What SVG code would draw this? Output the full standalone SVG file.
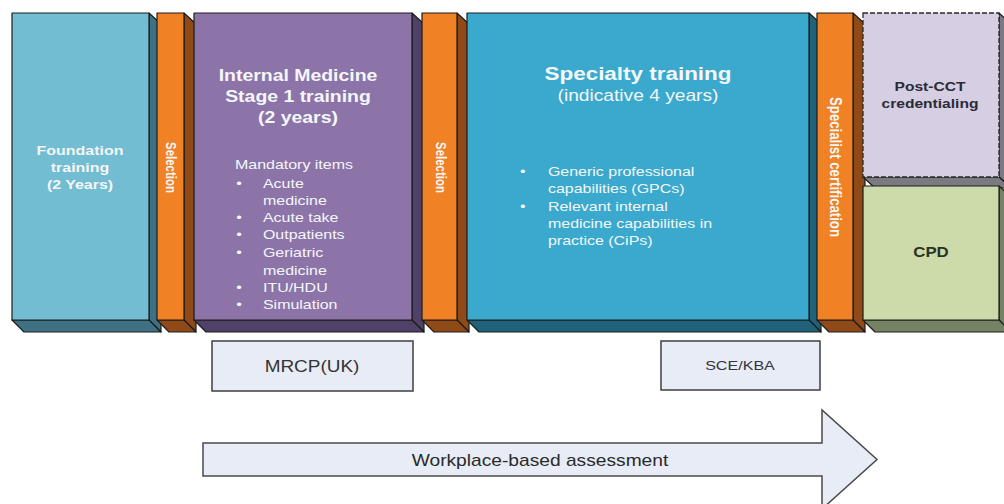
<svg xmlns="http://www.w3.org/2000/svg" width="1004" height="504" viewBox="0 0 1004 504">
  <style>
    .edge { stroke: #1c1c1c; stroke-width: 1.2; stroke-linejoin: round; }
    .lbl { font-family: "Liberation Sans", Arial, sans-serif; }
    .b { font-weight: bold; }
    .w { fill: #f4f7f9; }
    .mid { text-anchor: middle; }
    .dark { fill: #2b2b38; }
    .box { fill: #e7ecf6; stroke: #3f3f3f; stroke-width: 1.5; }
  </style>

  <rect width="1004" height="504" fill="#ffffff"/>

  <!-- Foundation training -->
  <g id="foundation">
    <polygon class="edge" points="149,13 161,24 161,332 149,320" fill="#3e7183"/>
    <polygon class="edge" points="12,320 149,320 161,332 24,332" fill="#3e7183"/>
    <rect class="edge" x="12" y="13" width="137" height="307" fill="#72bdd1"/>
    <g class="lbl b w mid" font-size="13.3" transform="translate(80 0) scale(1.2 1)">
      <text x="0" y="155">Foundation</text>
      <text x="0" y="172">training</text>
      <text x="0" y="189">(2 Years)</text>
    </g>
  </g>

  <!-- Selection (first) -->
  <g id="selection1">
    <polygon class="edge" points="184,13 196,24 196,332 184,320" fill="#8f4a18"/>
    <polygon class="edge" points="157,320 184,320 196,332 169,332" fill="#8f4a18"/>
    <rect class="edge" x="157" y="13" width="27" height="307" fill="#f08125"/>
    <g transform="translate(170 167.5) scale(1.2 1) rotate(90)">
      <text class="lbl b w mid" font-size="11.5" x="0" y="0" dominant-baseline="central">Selection</text>
    </g>
  </g>

  <!-- Internal Medicine Stage 1 -->
  <g id="im-stage1">
    <polygon class="edge" points="412,13 424,24 424,332 412,320" fill="#4f4168"/>
    <polygon class="edge" points="194,320 412,320 424,332 206,332" fill="#4f4168"/>
    <rect class="edge" x="194" y="13" width="218" height="307" fill="#8c74a9"/>
    <g class="lbl b w mid" font-size="16.2" transform="translate(298 0) scale(1.2 1)">
      <text x="0" y="81">Internal Medicine</text>
      <text x="0" y="102">Stage 1 training</text>
      <text x="0" y="123">(2 years)</text>
    </g>
    <g class="lbl w" font-size="13.3" transform="translate(235 0) scale(1.2 1)">
      <text x="0" y="169">Mandatory items</text>
      <text x="1" y="188">•</text><text x="23.3" y="188">Acute</text>
      <text x="23.3" y="205">medicine</text>
      <text x="1" y="222">•</text><text x="23.3" y="222">Acute take</text>
      <text x="1" y="239">•</text><text x="23.3" y="239">Outpatients</text>
      <text x="1" y="257">•</text><text x="23.3" y="257">Geriatric</text>
      <text x="23.3" y="275">medicine</text>
      <text x="1" y="292">•</text><text x="23.3" y="292">ITU/HDU</text>
      <text x="1" y="309">•</text><text x="23.3" y="309">Simulation</text>
    </g>
  </g>

  <!-- Selection (second) -->
  <g id="selection2">
    <polygon class="edge" points="457,13 469,24 469,332 457,320" fill="#8f4a18"/>
    <polygon class="edge" points="422,320 457,320 469,332 434,332" fill="#8f4a18"/>
    <rect class="edge" x="422" y="13" width="35" height="307" fill="#f08125"/>
    <g transform="translate(440 167.5) scale(1.2 1) rotate(90)">
      <text class="lbl b w mid" font-size="11.5" x="0" y="0" dominant-baseline="central">Selection</text>
    </g>
  </g>

  <!-- Specialty training -->
  <g id="specialty">
    <polygon class="edge" points="809,13 821,24 821,332 809,320" fill="#1f6279"/>
    <polygon class="edge" points="467,320 809,320 821,332 479,332" fill="#1f6279"/>
    <rect class="edge" x="467" y="13" width="342" height="307" fill="#3aa9cd"/>
    <g class="lbl w mid" transform="translate(638 0) scale(1.2 1)">
      <text class="b" x="0" y="80" font-size="18.7">Specialty training</text>
      <text x="0" y="101" font-size="16">(indicative 4 years)</text>
    </g>
    <g class="lbl w" font-size="13.3" transform="translate(520 0) scale(1.2 1)">
      <text x="0" y="176">•</text><text x="23.3" y="176">Generic professional</text>
      <text x="23.3" y="193">capabilities (GPCs)</text>
      <text x="0" y="211">•</text><text x="23.3" y="211">Relevant internal</text>
      <text x="23.3" y="228">medicine capabilities in</text>
      <text x="23.3" y="245">practice (CiPs)</text>
    </g>
  </g>

  <!-- Specialist certification -->
  <g id="specialist-cert">
    <polygon class="edge" points="853,13 865,24 865,332 853,320" fill="#8f4a18"/>
    <polygon class="edge" points="817,320 853,320 865,332 829,332" fill="#8f4a18"/>
    <rect class="edge" x="817" y="13" width="36" height="307" fill="#f08125"/>
    <g transform="translate(835 167) scale(1.2 1) rotate(90)">
      <text class="lbl b w mid" font-size="13.2" x="0" y="0" dominant-baseline="central">Specialist certification</text>
    </g>
  </g>

  <!-- Post-CCT credentialing -->
  <g id="post-cct">
    <polygon class="edge" points="999,13 1011,24 1011,188 999,177" fill="#7b7a82"/>
    <polygon class="edge" points="863,177 999,177 1011,188 875,188" fill="#7b7a82"/>
    <rect x="863" y="13" width="136" height="164" fill="#d6cee2" stroke="#2a2a2a" stroke-width="1.3" stroke-dasharray="5 2"/>
    <g class="lbl b dark mid" font-size="13" transform="translate(930 0) scale(1.2 1)">
      <text x="0" y="91">Post-CCT</text>
      <text x="0" y="108">credentialing</text>
    </g>
  </g>

  <!-- CPD -->
  <g id="cpd">
    <polygon class="edge" points="999,186 1011,197 1011,332 999,320" fill="#768363"/>
    <polygon class="edge" points="863,320 999,320 1011,332 875,332" fill="#768363"/>
    <rect class="edge" x="863" y="186" width="136" height="134" fill="#cddbab"/>
    <g transform="translate(931 0) scale(1.2 1)">
      <text class="lbl b mid" font-size="14" x="0" y="257" fill="#2a3322">CPD</text>
    </g>
  </g>

  <!-- Assessment boxes -->
  <g id="mrcp">
    <rect class="box" x="212" y="341" width="201" height="50"/>
    <g transform="translate(312 0) scale(1.2 1)">
      <text class="lbl mid" font-size="15.8" x="0" y="372" fill="#333333">MRCP(UK)</text>
    </g>
  </g>

  <g id="sce-kba">
    <rect class="box" x="661" y="341" width="159" height="49"/>
    <g transform="translate(740 0) scale(1.2 1)">
      <text class="lbl mid" font-size="13.4" x="0" y="370" fill="#333340">SCE/KBA</text>
    </g>
  </g>

  <!-- Workplace-based assessment arrow -->
  <g id="wpba">
    <polygon points="203,443 822,443 822,410 877,459.5 822,509 822,476 203,476" fill="#e7ecf6" stroke="#4a4a4a" stroke-width="1.5"/>
    <g transform="translate(540 0) scale(1.2 1)">
      <text class="lbl mid" font-size="16" x="0" y="466" fill="#2a2a2a">Workplace-based assessment</text>
    </g>
  </g>

  <g id="connectors"/>
</svg>
